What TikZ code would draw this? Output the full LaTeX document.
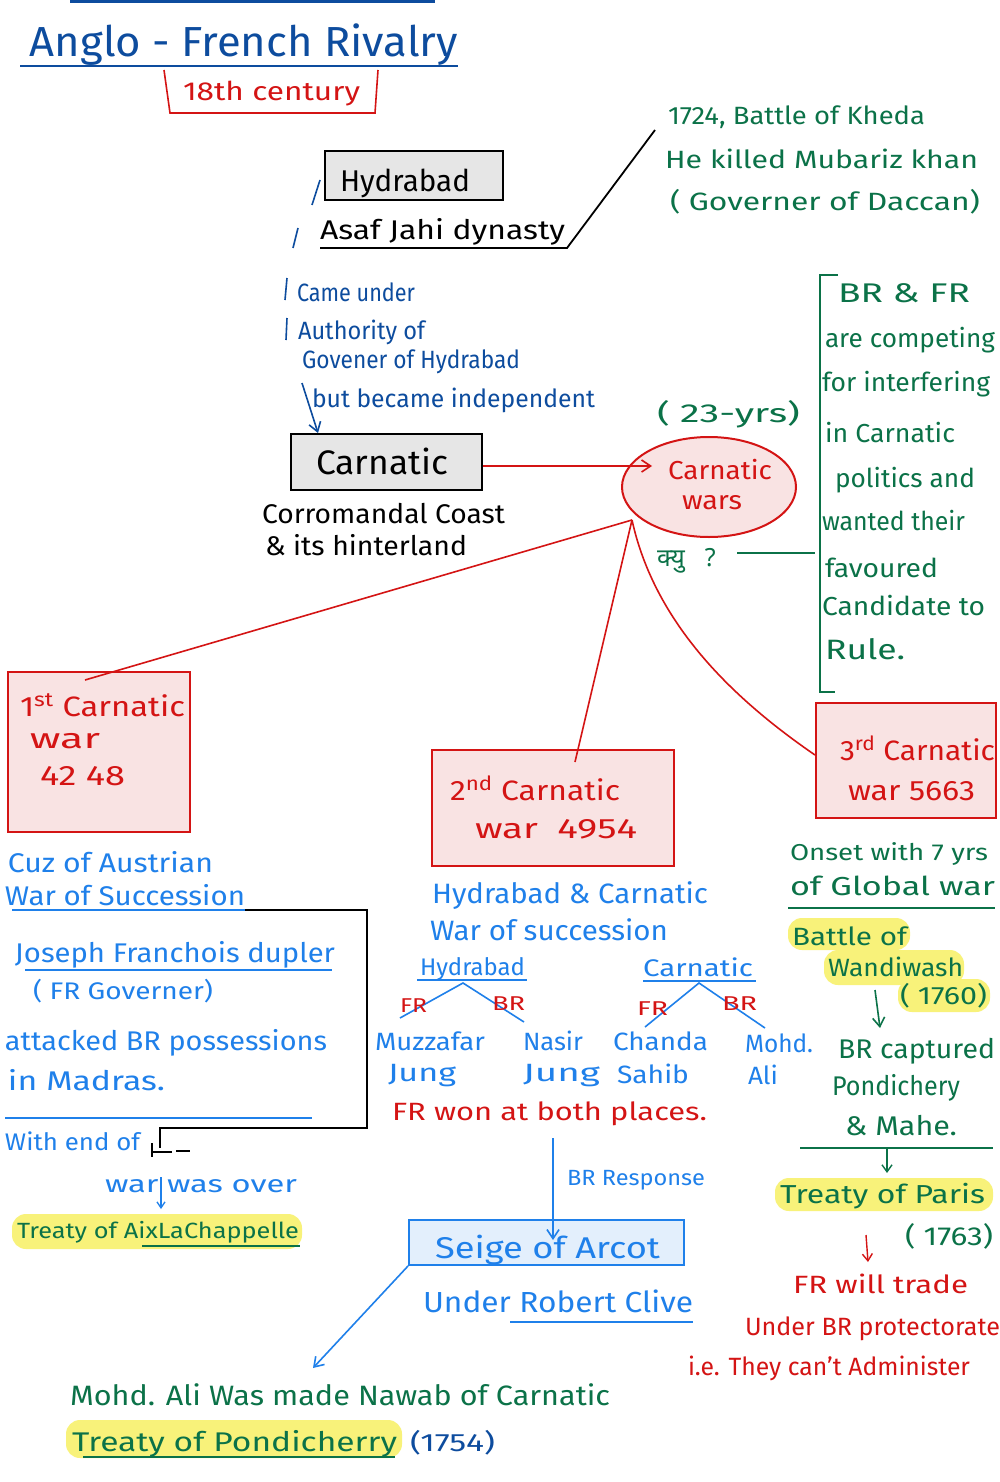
\documentclass[tikz,border=0pt]{standalone}
\usepackage{fontspec}
\usepackage{graphicx}
\setmainfont{Fira Sans}
\newfontfamily\devfont[Script=Devanagari]{Noto Sans}
\usetikzlibrary{arrows.meta,shapes.geometric}
\definecolor{tblue}{HTML}{0D4C9E}
\definecolor{bblue}{HTML}{1F80EA}
\definecolor{hred}{HTML}{D41414}
\definecolor{hgreen}{HTML}{0B7248}
\definecolor{pinkf}{HTML}{F9E3E3}
\definecolor{grayf}{HTML}{E6E6E6}
\definecolor{lbluef}{HTML}{E3EFFC}
\definecolor{hyellow}{HTML}{F8F27A}
\newcommand\hw[2]{\resizebox{#1pt}{\height}{#2}}
\tikzset{
  txt/.style={anchor=base west, inner sep=0pt, outer sep=0pt},
  fs/.style={font=\fontsize{#1}{#1}\selectfont},
  graybox/.style={draw=black, line width=2pt, fill=grayf, inner sep=0pt},
  pinkbox/.style={draw=hred, line width=2pt, fill=pinkf, inner sep=0pt},
  bluebox/.style={draw=bblue, line width=1.8pt, fill=lbluef, inner sep=0pt},
  hl/.style={fill=hyellow, rounded corners=14pt},
  ln/.style={line width=1.6pt},
  arr/.style={line width=1.6pt, -{Straight Barb[length=9pt,width=12pt]}},
}
\begin{document}
\begin{tikzpicture}[x=1pt,y=-1pt]
\useasboundingbox (0,0) rectangle (1000,1482);
\fill[white] (0,0) rectangle (1000,1482);

% ---------- highlights ----------
\fill[hl] (12,1214) rectangle (302,1249);
\fill[hl] (66,1420) rectangle (402,1458);
\fill[hl] (788,918) rectangle (910,950);
\fill[hl] (824,950) rectangle (964,985);
\fill[hl] (898,979) rectangle (990,1012);
\fill[hl] (775,1178) rectangle (993,1211);

% ---------- title ----------
\coordinate (tl1) at (70,2); \coordinate (tl2) at (435,2);
\draw[tblue, line width=3pt] (tl1) -- (tl2);
\node[txt,fs=42,tblue] (title) at (30,57) {\hw{428}{Anglo - French Rivalry}};
\coordinate (tu1) at (20,66); \coordinate (tu2) at (458,66);
\draw[tblue, line width=2.5pt] (tu1) -- (tu2);
\coordinate (rb1) at (164,70); \coordinate (rb2) at (170,113);
\coordinate (rb3) at (375,113); \coordinate (rb4) at (378,70);
\draw[hred, ln] (rb1) -- (rb2) -- (rb3) -- (rb4);
\node[txt,fs=26,hred] (cent) at (183,101) {\hw{177}{18th century}};

% ---------- Hydrabad ----------
\node[graybox, minimum width=178pt, minimum height=49pt] (hyd) at (414,175.5) {};
\node[txt,fs=30] (hydt) at (340,192) {\hw{130}{Hydrabad}};
\coordinate (s1a) at (320,180); \coordinate (s1b) at (312,205);
\coordinate (s2a) at (298,228); \coordinate (s2b) at (293,248);
\draw[tblue, ln] (s1a) -- (s1b);
\draw[tblue, ln] (s2a) -- (s2b);
\node[txt,fs=27] (asaf) at (320,239) {\hw{245}{Asaf Jahi dynasty}};
\coordinate (au1) at (320,248); \coordinate (au2) at (567,248); \coordinate (au3) at (655,130);
\draw[line width=1.8pt] (au1) -- (au2) -- (au3);

\node[txt,fs=25,hgreen] (k1) at (668,125) {\hw{257}{1724, Battle of Kheda}};
\node[txt,fs=25,hgreen] (k2) at (665,168) {\hw{313}{He killed Mubariz khan}};
\node[txt,fs=25,hgreen] (k3) at (670,211) {\hw{310}{( Governer of Daccan)}};

% ---------- came under ----------
\coordinate (b1a) at (287,278); \coordinate (b1b) at (285,300);
\coordinate (b2a) at (287,318); \coordinate (b2b) at (286,340);
\draw[tblue, ln] (b1a) -- (b1b);
\draw[tblue, ln] (b2a) -- (b2b);
\node[txt,fs=25,tblue] (cu1) at (297,301) {\hw{118}{Came under}};
\node[txt,fs=25,tblue] (cu2) at (298,339) {\hw{127}{Authority of}};
\node[txt,fs=25,tblue] (cu3) at (302,368) {\hw{218}{Govener of Hydrabad}};
\node[txt,fs=25,tblue] (cu4) at (312,407) {\hw{283}{but became independent}};

% ---------- Carnatic ----------
\node[graybox, minimum width=191pt, minimum height=56pt] (carn) at (386.5,462) {};
\node[txt,fs=34] (carnt) at (316,474) {\hw{132}{Carnatic}};
\coordinate (cu4a) at (302,383);
\draw[tblue, arr] (cu4a) -- (carn.north west -| 318,0);
\node[txt,fs=27] (coro1) at (262,523) {\hw{243}{Corromandal Coast}};
\node[txt,fs=27] (coro2) at (265,555) {\hw{202}{\& its hinterland}};

% ---------- Carnatic wars ----------
\node[ellipse, draw=hred, line width=2pt, fill=pinkf, minimum width=174pt, minimum height=100pt, inner sep=0pt] (cw) at (709,487) {};
\node[txt,fs=26,hred] (cwt1) at (668,479) {\hw{104}{Carnatic}};
\node[txt,fs=26,hred] (cwt2) at (682,509) {\hw{60}{wars}};
\node[txt,fs=26,hgreen] (yrs) at (657,422) {\hw{143}{( 23-yrs)}};
\coordinate (cwin) at (652,466);
\draw[hred, ln, -{Straight Barb[length=9pt,width=12pt]}] (carn.east |- cwin) -- (cwin);

\node[txt,fs=25,hgreen] (kyu) at (657,566) {\devfont क्यु\hspace{20pt}?};
\coordinate (kl1) at (737,553); \coordinate (kl2) at (815,553);
\draw[hgreen, ln] (kl1) -- (kl2);

% ---------- green bracket ----------
\coordinate (gb1) at (838,275); \coordinate (gb2) at (820,275);
\coordinate (gb3) at (820,692); \coordinate (gb4) at (835,692);
\draw[hgreen, line width=1.8pt] (gb1) -- (gb2) -- (gb3) -- (gb4);
\node[txt,fs=27,hgreen] (g1) at (838,302) {\hw{132}{BR \& FR}};
\node[txt,fs=26,hgreen] (g2) at (825,347) {\hw{170}{are competing}};
\node[txt,fs=26,hgreen] (g3) at (822,391) {\hw{168}{for interfering}};
\node[txt,fs=26,hgreen] (g4) at (825,442) {\hw{130}{in Carnatic}};
\node[txt,fs=26,hgreen] (g5) at (835,487) {\hw{140}{politics and}};
\node[txt,fs=26,hgreen] (g6) at (822,530) {\hw{143}{wanted their}};
\node[txt,fs=26,hgreen] (g7) at (825,577) {\hw{113}{favoured}};
\node[txt,fs=26,hgreen] (g8) at (822,615) {\hw{163}{Candidate to}};
\node[txt,fs=28,hgreen] (g9) at (825,659) {\hw{80}{Rule.}};

% ---------- war boxes ----------
\node[pinkbox, minimum width=182pt, minimum height=160pt] (w1) at (99,752) {};
\node[txt,fs=28,hred] (w1a) at (20,716) {\hw{165}{1\textsuperscript{st} Carnatic}};
\node[txt,fs=28,hred] (w1b) at (30,748) {\hw{70}{war}};
\node[txt,fs=28,hred] (w1c) at (40,785) {\hw{85}{42 48}};

\node[pinkbox, minimum width=242pt, minimum height=116pt] (w2) at (553,808) {};
\node[txt,fs=28,hred] (w2a) at (450,800) {\hw{170}{2\textsuperscript{nd} Carnatic}};
\node[txt,fs=28,hred] (w2b) at (475,838) {\hw{162}{war\hspace{14pt}4954}};

\node[pinkbox, minimum width=180pt, minimum height=115pt] (w3) at (906,760.5) {};
\node[txt,fs=28,hred] (w3a) at (840,760) {\hw{155}{3\textsuperscript{rd} Carnatic}};
\node[txt,fs=28,hred] (w3b) at (848,800) {\hw{127}{war 5663}};

\coordinate (cwsw) at (632,520);
\coordinate (w1in) at (85,680);
\coordinate (w2in) at (575,762);
\coordinate (w3in) at (815,755);
\draw[hred, ln] (cwsw) -- (w1in);
\draw[hred, ln] (cwsw) -- (w2in);
\draw[hred, ln] (cwsw) .. controls (655,625) and (735,700) .. (w3in);

% ---------- 1st war notes ----------
\node[txt,fs=27,bblue] (a1) at (8,872) {\hw{205}{Cuz of Austrian}};
\node[txt,fs=27,bblue] (a2) at (5,905) {\hw{240}{War of Succession}};
\coordinate (a2u1) at (12,910); \coordinate (a2u2) at (245,910);
\draw[bblue, ln] (a2u1) -- (a2u2);
\coordinate (bk1) at (367,910); \coordinate (bk2) at (367,1128);
\coordinate (bk3) at (160,1128); \coordinate (bk4) at (160,1148);
\draw[line width=1.8pt] (a2u2) -- (bk1) -- (bk2) -- (bk3) -- (bk4);
\coordinate (tk1) at (152,1143); \coordinate (tk2) at (152,1157);
\coordinate (tk3) at (172,1152); \coordinate (tk4) at (176,1151); \coordinate (tk5) at (190,1151);
\draw[line width=1.4pt] (tk1) -- (tk2);
\draw[line width=1.4pt] (tk1 |- tk3) -- (tk3);
\draw[line width=1.4pt] (tk4) -- (tk5);
\node[txt,fs=27,bblue] (a3) at (15,962) {\hw{320}{Joseph Franchois dupler}};
\coordinate (a3u1) at (25,970); \coordinate (a3u2) at (332,970);
\draw[bblue, ln] (a3u1) -- (a3u2);
\node[txt,fs=24,bblue] (a4) at (33,999) {\hw{180}{( FR Governer)}};
\node[txt,fs=27,bblue] (a5) at (5,1050) {\hw{322}{attacked BR possessions}};
\node[txt,fs=27,bblue] (a6) at (8,1090) {\hw{157}{in Madras.}};
\coordinate (a6u1) at (5,1118); \coordinate (a6u2) at (312,1118);
\draw[bblue, ln] (a6u1) -- (a6u2);
\node[txt,fs=24,bblue] (a7) at (5,1150) {\hw{135}{With end of}};
\node[txt,fs=24,bblue] (a8) at (105,1192) {\hw{192}{war was over}};
\coordinate (a8d) at (161,1177);
\coordinate (a9t) at (161,1209);
\draw[bblue, line width=1.3pt, -{Straight Barb[length=6pt,width=8pt]}] (a8d) -- (a9t);
\node[txt,fs=22,hgreen] (a9) at (17,1238) {\hw{282}{Treaty of AixLaChappelle}};
\coordinate (a9u1) at (142,1246); \coordinate (a9u2) at (300,1246);
\draw[hgreen, ln] (a9u1) -- (a9u2);

% ---------- 2nd war notes ----------
\node[txt,fs=28,bblue] (m1) at (432,903) {\hw{276}{Hydrabad \& Carnatic}};
\node[txt,fs=28,bblue] (m2) at (430,940) {\hw{238}{War of succession}};
\node[txt,fs=24,bblue] (m3) at (420,975) {\hw{105}{Hydrabad}};
\coordinate (m3u1) at (417,980); \coordinate (m3u2) at (527,980);
\draw[bblue, ln] (m3u1) -- (m3u2);
\node[txt,fs=24,bblue] (m4) at (643,976) {\hw{110}{Carnatic}};
\coordinate (m4u1) at (643,981); \coordinate (m4u2) at (756,981);
\draw[bblue, ln] (m4u1) -- (m4u2);
\coordinate (ha) at (463,983); \coordinate (hl) at (400,1018); \coordinate (hr) at (524,1022);
\coordinate (ca) at (699,983); \coordinate (cl) at (645,1027); \coordinate (cr) at (765,1028);
\draw[bblue, ln] (hl) -- (ha) -- (hr);
\draw[bblue, ln] (cl) -- (ca) -- (cr);
\node[txt,fs=20,hred] (fr1) at (400,1012) {\hw{27}{FR}};
\node[txt,fs=20,hred] (br1) at (492,1010) {\hw{33}{BR}};
\node[txt,fs=20,hred] (fr2) at (637,1015) {\hw{31}{FR}};
\node[txt,fs=20,hred] (br2) at (722,1010) {\hw{35}{BR}};
\node[txt,fs=25,bblue] (n1) at (375,1050) {\hw{110}{Muzzafar}};
\node[txt,fs=25,bblue] (n2) at (388,1081) {\hw{68}{Jung}};
\node[txt,fs=25,bblue] (n3) at (523,1050) {\hw{60}{Nasir}};
\node[txt,fs=25,bblue] (n4) at (523,1081) {\hw{77}{Jung}};
\node[txt,fs=25,bblue] (n5) at (613,1050) {\hw{95}{Chanda}};
\node[txt,fs=25,bblue] (n6) at (617,1083) {\hw{72}{Sahib}};
\node[txt,fs=25,bblue] (n7) at (745,1052) {\hw{68}{Mohd.}};
\node[txt,fs=25,bblue] (n8) at (748,1084) {\hw{30}{Ali}};
\node[txt,fs=25,hred] (won) at (392,1120) {\hw{315}{FR won at both places.}};

\node[bluebox, minimum width=275pt, minimum height=45pt] (arc) at (546.5,1242.5) {};
\node[txt,fs=30,bblue] (arct) at (435,1258) {\hw{225}{Seige of Arcot}};
\coordinate (brs) at (553,1138);
\coordinate (brt) at (553,1240);
\draw[bblue, arr] (brs) -- (brt);
\node[txt,fs=22,bblue] (brr) at (567,1185) {\hw{138}{BR Response}};
\node[txt,fs=29,bblue] (clive) at (423,1312) {\hw{270}{Under Robert Clive}};
\coordinate (cvu1) at (510,1322); \coordinate (cvu2) at (693,1322);
\draw[bblue, ln] (cvu1) -- (cvu2);
\coordinate (nawt) at (313,1368);
\draw[bblue, arr] (arc.south west) -- (nawt);

\node[txt,fs=28,hgreen] (naw) at (70,1405) {\hw{540}{Mohd. Ali Was made Nawab of Carnatic}};
\node[txt,fs=27,hgreen] (tpo) at (72,1451) {\hw{325}{Treaty of Pondicherry}};
\coordinate (tpu1) at (83,1457); \coordinate (tpu2) at (395,1457);
\draw[hgreen, ln] (tpu1) -- (tpu2);
\node[txt,fs=25,tblue] (y54) at (410,1451) {\hw{85}{(1754)}};

% ---------- 3rd war notes ----------
\node[txt,fs=23,hgreen] (r1) at (790,860) {\hw{198}{Onset with 7 yrs}};
\node[txt,fs=26,hgreen] (r2) at (790,895) {\hw{205}{of Global war}};
\coordinate (r2u1) at (788,908); \coordinate (r2u2) at (995,908);
\draw[hgreen, ln] (r2u1) -- (r2u2);
\node[txt,fs=25,hgreen] (r3) at (792,945) {\hw{115}{Battle of}};
\node[txt,fs=25,hgreen] (r4) at (828,976) {\hw{135}{Wandiwash}};
\node[txt,fs=25,hgreen] (r5) at (900,1004) {\hw{87}{( 1760)}};
\coordinate (r5a) at (875,990); \coordinate (r5b) at (880,1028);
\draw[hgreen, arr] (r5a) -- (r5b);
\node[txt,fs=27,hgreen] (r6) at (838,1058) {\hw{157}{BR captured}};
\node[txt,fs=27,hgreen] (r7) at (832,1095) {\hw{128}{Pondichery}};
\node[txt,fs=27,hgreen] (r8) at (845,1135) {\hw{112}{\& Mahe.}};
\coordinate (r8u1) at (800,1148); \coordinate (r8u2) at (993,1148);
\draw[hgreen, ln] (r8u1) -- (r8u2);
\coordinate (r8d) at (887,1148); \coordinate (r9t) at (887,1173);
\draw[hgreen, line width=1.4pt, -{Straight Barb[length=7pt,width=10pt]}] (r8d) -- (r9t);
\node[txt,fs=26,hgreen] (r9) at (780,1203) {\hw{205}{Treaty of Paris}};
\node[txt,fs=26,hgreen] (r10) at (905,1245) {\hw{88}{( 1763)}};
\coordinate (r10a) at (866,1235); \coordinate (r10b) at (868,1262);
\draw[hred, line width=1.4pt, -{Straight Barb[length=7pt,width=10pt]}] (r10a) -- (r10b);
\node[txt,fs=25,hred] (r11) at (793,1293) {\hw{175}{FR will trade}};
\node[txt,fs=25,hred] (r12) at (745,1335) {\hw{255}{Under BR protectorate}};
\node[txt,fs=25,hred] (r13) at (688,1375) {\hw{282}{i.e. They can't Administer}};
\end{tikzpicture}
\end{document}
